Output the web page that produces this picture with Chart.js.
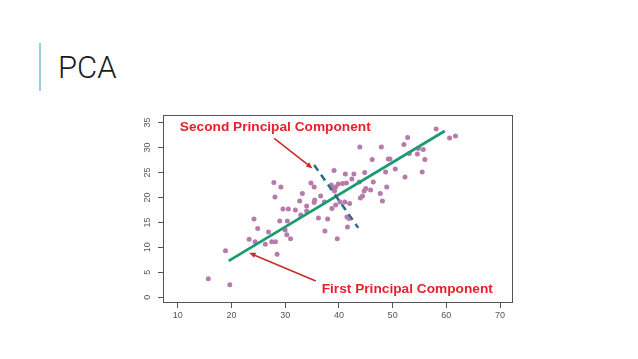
<!DOCTYPE html>
<html>
<head>
<meta charset="utf-8">
<script src="https://cdn.jsdelivr.net/npm/chart.js@4"></script>
<style>
body { margin: 0; background: #fff; }
#wrap { position: relative; width: 638px; height: 359px; overflow: hidden; }
#bar { position: absolute; left: 39px; top: 43px; width: 2px; height: 48px; background: #9ccbd9; }
#title { position: absolute; left: 58px; top: 49px; font-family: Roboto, "Liberation Sans", sans-serif; font-weight: 300; font-size: 31px; color: #1a1a1a; }
canvas { position: absolute; left: 0; top: 0; }
</style>
</head>
<body>
<div id="wrap">
  <div id="bar"></div>
  <div id="title">PCA</div>
  <canvas id="pcaChart" width="638" height="359"></canvas>
</div>
<script>
// scatter data
const xValues = [15.7, 19.7, 18.9, 23.3, 24.2, 24.9, 24.4, 26.3, 26.9, 27.5, 28.2, 28.5, 27.9, 29.2, 28.1,
  29.0, 29.6, 30.6, 30.4, 30.0, 30.3, 31.0, 31.9, 32.7, 33.2, 32.9, 34.0, 34.0, 34.8, 35.4, 35.4, 35.5,
  36.2, 36.6, 37.3, 37.4, 37.9, 39.1, 38.6, 39.1, 39.4, 39.2, 39.9, 39.7, 38.7, 39.4, 40.2, 40.7, 41.2,
  41.4, 41.1, 41.5, 41.6, 42.0, 41.9, 42.4, 42.8, 43.9, 43.8, 44.0, 44.4, 44.8, 45.0, 44.7, 46.2, 46.4,
  45.9, 47.9, 47.7, 48.1, 48.7, 48.9, 49.2, 49.5, 50.5, 52.1, 52.8, 52.3, 53.1, 54.6, 54.8, 55.5, 55.7,
  56.0, 58.1, 60.6, 61.7];
const yValues = [3.7, 2.5, 9.3, 11.6, 15.7, 13.8, 11.1, 10.6, 13.1, 11.1, 11.1, 8.6, 23.0, 22.1, 20.1,
  15.3, 17.7, 17.7, 15.3, 13.5, 12.5, 11.7, 17.5, 19.3, 20.8, 16.5, 18.3, 17.3, 22.9, 22.1, 19.0, 19.5,
  15.9, 20.3, 19.1, 13.3, 15.7, 25.4, 22.5, 21.8, 22.1, 21.3, 22.7, 11.7, 17.8, 18.5, 19.1, 22.8, 24.7,
  22.9, 19.1, 16.1, 14.1, 18.8, 15.8, 23.7, 24.7, 30.1, 23.1, 19.9, 20.3, 25.0, 21.8, 21.3, 27.6, 23.1,
  21.5, 30.1, 20.8, 19.3, 25.1, 22.1, 27.7, 27.7, 25.7, 30.6, 32.0, 24.1, 28.8, 28.7, 29.8, 25.1, 29.6,
  27.6, 33.7, 31.9, 32.3];

// principal component lines
const pc1X = [19.5, 59.7];
const pc1Y = [7.3, 33.3];
const pc2X = [35.4, 43.6];
const pc2Y = [26.5, 13.9];

const xTicks = [10, 20, 30, 40, 50, 60, 70];
const yTicks = [0, 5, 10, 15, 20, 25, 30, 35];

// annotations
const noteText = ['Second Principal Component', 'First Principal Component'];
const noteX = [10.4, 36.8];
const noteY = [34.06, 1.66];
const arrowFromX = [27.96, 35.7];
const arrowFromY = [31.8, 3.26];
const arrowToX = [35.1, 23.3];
const arrowToY = [25.8, 8.9];

const toXY = (xs, ys) => xs.map((x, i) => ({ x: x, y: ys[i] }));

const boxAndNotes = {
  id: 'boxAndNotes',
  afterDatasetsDraw(chart) {
    const { ctx, chartArea, scales } = chart;
    ctx.save();
    ctx.strokeStyle = '#555';
    ctx.lineWidth = 1;
    ctx.strokeRect(chartArea.left + 0.5, chartArea.top + 0.5, chartArea.width - 1, chartArea.height - 1);

    // arrows
    ctx.strokeStyle = '#cc2b2b';
    ctx.fillStyle = '#cc2b2b';
    ctx.lineWidth = 1.6;
    arrowFromX.forEach((fx, i) => {
      const x0 = scales.x.getPixelForValue(fx), y0 = scales.y.getPixelForValue(arrowFromY[i]);
      const x1 = scales.x.getPixelForValue(arrowToX[i]), y1 = scales.y.getPixelForValue(arrowToY[i]);
      const a = Math.atan2(y1 - y0, x1 - x0);
      ctx.beginPath();
      ctx.moveTo(x0, y0);
      ctx.lineTo(x1 - 4 * Math.cos(a), y1 - 4 * Math.sin(a));
      ctx.stroke();
      ctx.beginPath();
      ctx.moveTo(x1, y1);
      ctx.lineTo(x1 - 7 * Math.cos(a - 0.4), y1 - 7 * Math.sin(a - 0.4));
      ctx.lineTo(x1 - 7 * Math.cos(a + 0.4), y1 - 7 * Math.sin(a + 0.4));
      ctx.closePath();
      ctx.fill();
    });

    // labels
    ctx.fillStyle = '#e3222b';
    ctx.font = 'bold 13.7px "Liberation Sans", Arial, sans-serif';
    ctx.textBaseline = 'middle';
    ctx.textAlign = 'left';
    noteText.forEach((t, i) => {
      ctx.fillText(t, scales.x.getPixelForValue(noteX[i]), scales.y.getPixelForValue(noteY[i]));
    });
    ctx.restore();
  }
};

new Chart(document.getElementById('pcaChart'), {
  type: 'scatter',
  data: {
    datasets: [
      {
        data: toXY(pc2X, pc2Y),
        showLine: true,
        borderColor: '#2f6b8c',
        borderWidth: 2.5,
        borderDash: [7, 5],
        pointRadius: 0
      },
      {
        data: toXY(pc1X, pc1Y),
        showLine: true,
        borderColor: '#1c9a72',
        borderWidth: 2.8,
        pointRadius: 0
      },
      {
        data: toXY(xValues, yValues),
        backgroundColor: '#b87aaa',
        borderWidth: 0,
        pointRadius: 2.5
      }
    ]
  },
  options: {
    responsive: false,
    animation: false,
    layout: { padding: { left: 0, top: 115, right: 125, bottom: 0 } },
    plugins: { legend: { display: false }, tooltip: { enabled: false } },
    scales: {
      x: {
        type: 'linear',
        min: 7.27,
        max: 72.4,
        afterBuildTicks: s => { s.ticks = xTicks.map(v => ({ value: v })); },
        afterFit: s => { s.height = 56; },
        grid: { drawOnChartArea: false, drawTicks: true, tickLength: 5, color: '#555' },
        border: { display: false },
        ticks: { color: '#555', font: { size: 9, family: '"Liberation Sans", Arial' }, padding: 2, maxRotation: 0, autoSkip: false }
      },
      y: {
        type: 'linear',
        min: -1.14,
        max: 36.5,
        afterBuildTicks: s => { s.ticks = yTicks.map(v => ({ value: v })); },
        afterFit: s => { s.width = 163; },
        grid: { drawOnChartArea: false, drawTicks: true, tickLength: 5, color: '#555' },
        border: { display: false },
        ticks: { color: '#555', font: { size: 9, family: '"Liberation Sans", Arial' }, padding: 5, minRotation: 90, maxRotation: 90, crossAlign: 'center', autoSkip: false }
      }
    }
  },
  plugins: [boxAndNotes]
});
</script>
</body>
</html>
